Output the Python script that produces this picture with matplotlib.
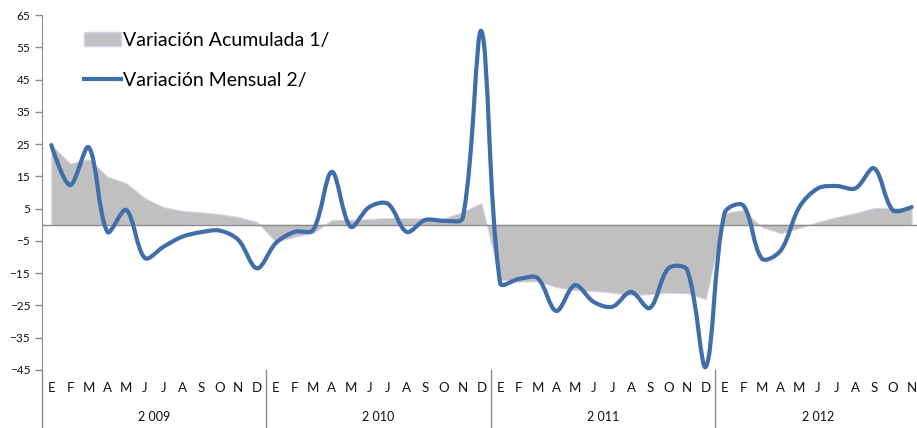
import numpy as np
import matplotlib
matplotlib.use("Agg")
import matplotlib.pyplot as plt
from matplotlib.path import Path
from matplotlib.patches import PathPatch, Patch
from matplotlib.lines import Line2D
import matplotlib.transforms as mtransforms

plt.rcParams['font.family'] = ['Lato', 'DejaVu Sans']

# ---- data ---------------------------------------------------------------
years = ['2 009', '2 010', '2 011', '2 012']
month_letters = ['E', 'F', 'M', 'A', 'M', 'J', 'J', 'A', 'S', 'O', 'N', 'D']
months_per_year = [12, 12, 12, 11]

# Variación Mensual 2/
mensual = [24.7, 12.3, 24.0, -2.2, 4.6, -10.3, -6.8, -3.7, -2.3, -1.8, -4.7, -13.5,
           -5.7, -2.2, -1.6, 16.4, -0.6, 5.5, 6.5, -2.2, 1.5, 1.2, 2.1, 60.0,
           -18.1, -16.8, -16.5, -26.7, -18.7, -23.9, -25.4, -20.8, -25.8, -13.5, -14.0, -44.0,
           3.6, 6.0, -10.5, -8.0, 5.5, 11.3, 12.0, 11.3, 17.5, 4.5, 5.5]

# Variación Acumulada 1/
acumulada = [24.7, 19.0, 20.3, 14.9, 12.9, 8.2, 5.5, 4.3, 3.9, 3.3, 2.4, 0.9,
             -5.3, -3.7, -2.6, 1.5, 1.5, 1.8, 2.1, 2.0, 2.0, 2.0, 4.0, 6.7,
             -17.0, -17.6, -17.5, -19.3, -20.2, -20.5, -21.0, -21.8, -21.5, -21.0, -21.2, -23.0,
             3.6, 4.5, -0.7, -2.6, -1.0, 0.9, 2.4, 3.6, 5.2, 5.2, 5.0]

yticks = list(range(-45, 66, 10))

# ---- figure -------------------------------------------------------------
W, H = 917, 428
fig = plt.figure(figsize=(W / 100, H / 100), dpi=100)
ax_left, ax_top, ax_bot = 42, 15, 370
step = 18.7
ax = fig.add_axes([ax_left / W, (H - ax_bot) / H, (W - ax_left) / W, (ax_bot - ax_top) / H])
ypx = (ax_bot - ax_top) / 110.0  # pixels per unit on y

x = np.arange(len(mensual))
gray = '#8C8C8C'
blue = '#3F6EA8'

# area
ax.fill_between(x, acumulada, 0, facecolor='#C0C0C0', edgecolor='#D8D0E6', linewidth=0.8, zorder=1)

# smoothed line, bezier with tangents weighted by neighbouring segment lengths (pixel space)
pts = np.column_stack([x, mensual]).astype(float)
n = len(pts)
scale = np.array([step, ypx])
c_in = pts.copy()
c_out = pts.copy()
for i in range(1, n - 1):
    t = pts[i + 1] - pts[i - 1]
    dp = np.linalg.norm((pts[i] - pts[i - 1]) * scale)
    dn = np.linalg.norm((pts[i + 1] - pts[i]) * scale)
    c_out[i] = pts[i] + t * dn / (dp + dn) / 3.0
    c_in[i] = pts[i] - t * dp / (dp + dn) / 3.0
verts = [tuple(pts[0])]
codes = [Path.MOVETO]
for i in range(n - 1):
    verts += [tuple(c_out[i]), tuple(c_in[i + 1]), tuple(pts[i + 1])]
    codes += [Path.CURVE4] * 3
ax.add_patch(PathPatch(Path(verts, codes), facecolor='none', edgecolor=blue,
                       linewidth=3.0, capstyle='round', joinstyle='round', zorder=3))

ax.axhline(0, color=gray, linewidth=1.0, zorder=2)

xmax = (W - ax_left) / step - 0.5
ax.set_xlim(-0.5, xmax)
ax.set_ylim(-45, 65)

for s in ['top', 'right', 'bottom']:
    ax.spines[s].set_visible(False)
ax.spines['left'].set_color(gray)
ax.set_yticks(yticks)
ax.tick_params(axis='y', colors=gray, length=5, width=1, labelsize=8.5, labelcolor='#111111')
ax.set_xticks([])

# extend y axis line down through the category labels
ext = -(H - ax_bot) / (ax_bot - ax_top)
ax.plot([0, 0], [0, ext], transform=ax.transAxes, color=gray, lw=1, clip_on=False)

# category labels
trans = mtransforms.blended_transform_factory(ax.transData, ax.transAxes)
pos = 0
for yr, nm in zip(years, months_per_year):
    for k in range(nm):
        ax.text(pos + k, -18 / 355, month_letters[k], transform=trans, ha='center', va='center',
                fontsize=9.5, color='#111111')
    ax.text(pos + (nm - 1) / 2, -47 / 355, yr, transform=trans, ha='center', va='center',
            fontsize=9, color='#111111')
    pos += nm
    if pos < len(mensual):
        ax.plot([pos - 0.5, pos - 0.5], [0, ext], transform=trans, color=gray, lw=1, clip_on=False)

handles = [Patch(facecolor='#C0C0C0', edgecolor='#D8D0E6'),
           Line2D([0], [0], color=blue, lw=3)]
ax.legend(handles, ['Variación Acumulada 1/', 'Variación Mensual 2/'], loc='upper left',
          bbox_to_anchor=(0.039, 0.975), frameon=False, fontsize=14, handlelength=1.9,
          handleheight=0.7, handletextpad=0.1, labelspacing=1.2, borderaxespad=0)

fig.savefig('out.png', dpi=100)
